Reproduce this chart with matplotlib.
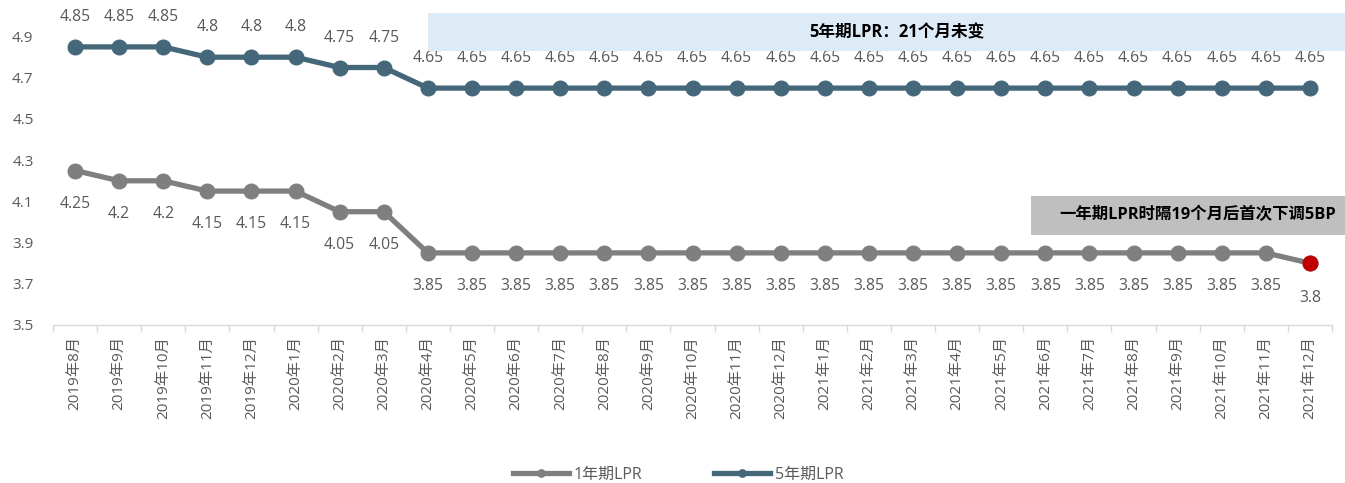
import matplotlib
matplotlib.use("Agg")
import matplotlib.pyplot as plt
from matplotlib.patches import Rectangle

plt.rcParams['font.family'] = ['Open Sans', 'Noto Sans CJK SC', 'DejaVu Sans']

months = ["2019年8月", "2019年9月", "2019年10月", "2019年11月", "2019年12月",
          "2020年1月", "2020年2月", "2020年3月", "2020年4月", "2020年5月",
          "2020年6月", "2020年7月", "2020年8月", "2020年9月", "2020年10月",
          "2020年11月", "2020年12月", "2021年1月", "2021年2月", "2021年3月",
          "2021年4月", "2021年5月", "2021年6月", "2021年7月", "2021年8月",
          "2021年9月", "2021年10月", "2021年11月", "2021年12月"]
lpr1 = [4.25, 4.2, 4.2, 4.15, 4.15, 4.15, 4.05, 4.05] + [3.85] * 20 + [3.8]
lpr5 = [4.85, 4.85, 4.85, 4.8, 4.8, 4.8, 4.75, 4.75] + [4.65] * 21
yticks = [3.5, 3.7, 3.9, 4.1, 4.3, 4.5, 4.7, 4.9]

c1 = "#7F7F7F"
c5 = "#44677A"
txt = "#595959"

fig = plt.figure(figsize=(13.45, 4.83), dpi=100)
ax = fig.add_axes([53/1345, 1 - 325/483, (1332-53)/1345, (325-16)/483])

x = list(range(len(months)))
ax.plot(x, lpr1, color=c1, lw=3.8, marker='o', ms=10.5, label="1年期LPR", zorder=3)
ax.plot(x, lpr5, color=c5, lw=3.8, marker='o', ms=10.5, label="5年期LPR", zorder=3)
ax.plot([x[-1]], [lpr1[-1]], 'o', color="#C00000", ms=10.5, zorder=4)

for i, v in enumerate(lpr5):
    ax.annotate(f"{v:g}", (i, v), xytext=(0, 21.5), textcoords='offset points',
                ha='center', va='center', fontsize=11.3, color=txt, zorder=2)
for i, v in enumerate(lpr1):
    off = -24 if i < len(lpr1) - 1 else -25
    ax.annotate(f"{v:g}", (i, v), xytext=(0, off), textcoords='offset points',
                ha='center', va='center', fontsize=11.3, color=txt, zorder=2)

ax.set_xlim(-0.5, len(months) - 0.5)
ax.set_ylim(3.5, 5.0)
ax.set_yticks(yticks)
ax.set_yticklabels([f"{t:g}" for t in yticks], fontsize=11, color=txt)
ax.set_xticks(x)
ax.set_xticklabels(months, rotation=90, fontsize=11, color=txt)
ax.tick_params(axis='y', length=0, pad=14)
ax.tick_params(axis='x', length=0, pad=8)
ax.set_xticks([i - 0.5 for i in range(len(months) + 1)], minor=True)
ax.tick_params(axis='x', which='minor', length=5, color="#D9D9D9", width=1)
for s in ['top', 'right', 'left']:
    ax.spines[s].set_visible(False)
ax.spines['bottom'].set_color("#D9D9D9")
ax.spines['bottom'].set_linewidth(1)

# annotation boxes (figure coords)
fig.patches.append(Rectangle((428/1345, 1 - 51/483), (1345-428)/1345, 38/483,
                             transform=fig.transFigure, facecolor="#DDEBF7",
                             edgecolor='none', zorder=0))
fig.text(897/1345, 1 - 32/483, "5年期LPR：21个月未变", ha='center', va='center',
         fontsize=12, fontweight='bold', color='black')
fig.patches.append(Rectangle((1031/1345, 1 - 235/483), (1345-1031)/1345, 39/483,
                             transform=fig.transFigure, facecolor="#BFBFBF",
                             edgecolor='none', zorder=0))
fig.text(1198/1345, 1 - 215/483, "一年期LPR时隔19个月后首次下调5BP", ha='center', va='center',
         fontsize=11.8, fontweight='bold', color='black')

leg = fig.legend(loc='center', bbox_to_anchor=(678/1345, 1 - 475/483), ncol=2, frameon=False,
                 fontsize=11.5, handlelength=3.5, handletextpad=0.3, columnspacing=4.5,
                 markerscale=0.5)
for t in leg.get_texts():
    t.set_color(txt)

fig.savefig("out.png", dpi=100)
